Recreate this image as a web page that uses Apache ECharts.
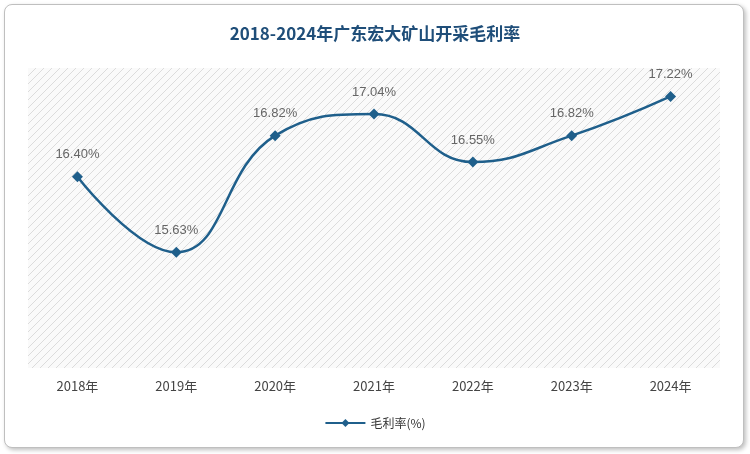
<!DOCTYPE html>
<html><head><meta charset="utf-8">
<script src="https://cdn.jsdelivr.net/npm/echarts@6/dist/echarts.min.js"></script>
<style>html,body{margin:0;padding:0;background:#fff}#wrap{position:absolute;left:4px;top:4px;width:738px;height:442px;border:1px solid #bfbfbf;border-radius:8px;box-shadow:2px 2px 4px rgba(0,0,0,0.25);background:#fff}#c{width:750px;height:454px;position:absolute;left:0;top:0}</style>
</head><body><div id="wrap"></div><div id="c"></div>
<script>
const categories=['2018年','2019年','2020年','2021年','2022年','2023年','2024年'];
const margin=[16.40,15.63,16.82,17.04,16.55,16.82,17.22];
const cv=document.createElement('canvas');cv.width=8;cv.height=8;
const cx=cv.getContext('2d');cx.fillStyle='#fafafa';cx.fillRect(0,0,8,8);cx.strokeStyle='#dcdcdc';cx.lineWidth=1;
cx.beginPath();cx.moveTo(0,8);cx.lineTo(8,0);cx.moveTo(-4,4);cx.lineTo(4,-4);cx.moveTo(4,12);cx.lineTo(12,4);cx.stroke();
const chart=echarts.init(document.getElementById('c'));
chart.setOption({
 title:{text:'2018-2024年广东宏大矿山开采毛利率',left:'center',top:20,textStyle:{fontSize:17,fontWeight:'bold',color:'#1f4e79',fontFamily:'Noto Sans CJK SC'}},
 legend:{bottom:20,left:'center',itemWidth:40,itemHeight:10,textStyle:{fontSize:12,color:'#333',fontFamily:'Noto Sans CJK SC'},data:['毛利率(%)']},
 grid:{left:28,right:30,top:68,bottom:86,show:true,borderWidth:0,backgroundColor:{image:cv,repeat:'repeat'}},
 xAxis:{type:'category',data:categories,boundaryGap:true,axisLine:{show:false},axisTick:{show:false},axisLabel:{fontSize:13,color:'#444',margin:12,fontFamily:'Noto Sans CJK SC'}},
 yAxis:{type:'value',min:14.45,max:17.51,show:false,splitLine:{show:false}},
 series:[{name:'毛利率(%)',type:'line',smooth:0.45,data:margin,symbol:'diamond',symbolSize:11,
  lineStyle:{color:'#1f5f8b',width:2.5},itemStyle:{color:'#1f5f8b'},
  label:{show:true,position:'top',distance:10,color:'#666',fontSize:13,formatter:p=>p.value.toFixed(2)+'%'}}]
});
</script></body></html>
